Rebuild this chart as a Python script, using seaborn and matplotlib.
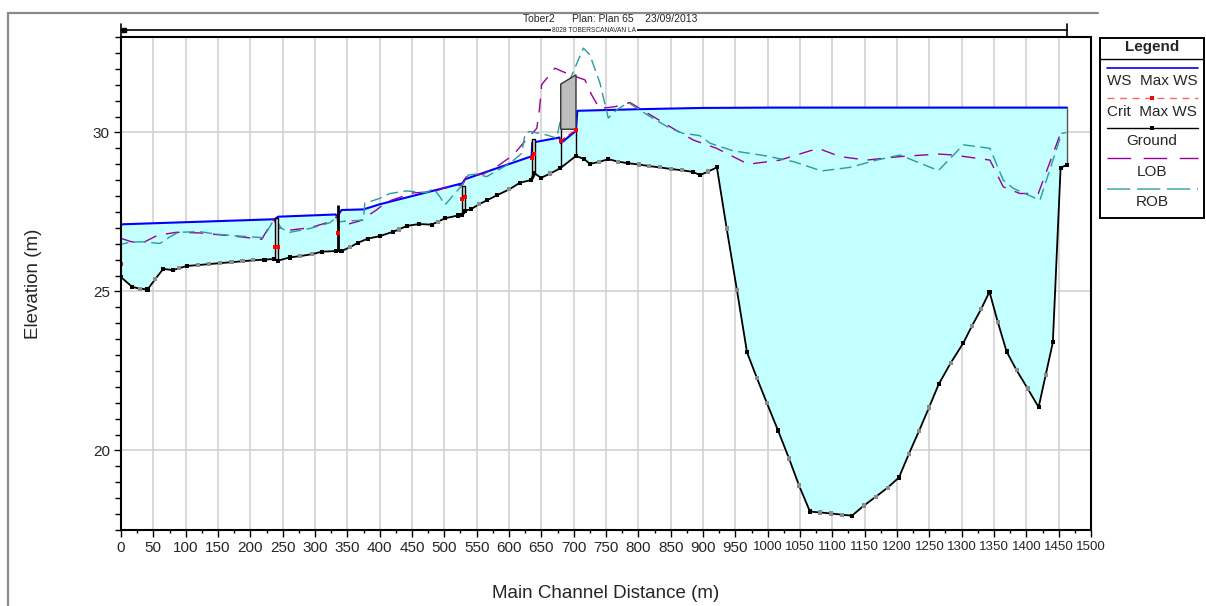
import numpy as np
import matplotlib
matplotlib.use("Agg")
import matplotlib.pyplot as plt
import matplotlib.transforms as mtransforms
from matplotlib.lines import Line2D
from matplotlib.patches import Rectangle
from matplotlib.ticker import MultipleLocator, FixedLocator
import seaborn as sns

# ---------------- Ground profile ----------------
ground_station = [0, 17.5, 29, 41, 52.6, 65.4, 80, 90, 101.5, 119.6, 136.5, 153, 171, 188,
                  204.6, 222, 236.6, 243, 261, 276.8, 294.8, 311, 332, 341, 354, 366.5,
                  381.5, 400.5, 421, 430, 441.8, 461, 480.4, 489.7, 501, 521.6, 527.8,
                  532, 540.7, 553.6, 566.5, 581, 600.5, 617, 634, 638.6, 649.5, 664,
                  679, 703.6, 716.5, 725, 739, 753.5, 769, 784.5, 801, 817, 833.5, 850.5,
                  867.5, 884, 895.3, 908, 921.5, 936.6, 952.5, 968, 983.5, 999, 1016,
                  1033, 1048.5, 1065.4, 1081, 1098, 1115, 1130.4, 1149, 1167.5, 1185.5,
                  1203, 1218.5, 1234, 1249.5, 1264.4, 1283, 1302.6, 1316, 1330, 1343,
                  1355.7, 1369.5, 1385, 1402, 1419, 1430, 1441, 1453, 1463]
ground_elev = [25.45, 25.14, 25.09, 25.06, 25.38, 25.71, 25.67, 25.73, 25.80, 25.83, 25.86,
               25.89, 25.92, 25.95, 25.98, 26.00, 26.02, 25.97, 26.07, 26.11, 26.17, 26.25,
               26.27, 26.27, 26.39, 26.53, 26.66, 26.74, 26.88, 26.95, 27.06, 27.12, 27.10,
               27.19, 27.30, 27.39, 27.40, 27.54, 27.58, 27.74, 27.87, 28.02, 28.21, 28.42,
               28.50, 28.73, 28.57, 28.71, 28.87, 29.26, 29.16, 29.01, 29.07, 29.16, 29.08,
               29.03, 28.99, 28.94, 28.90, 28.85, 28.81, 28.76, 28.66, 28.77, 28.90, 26.98,
               25.04, 23.09, 22.27, 21.48, 20.63, 19.75, 18.90, 18.08, 18.05, 18.02, 17.98,
               17.95, 18.27, 18.55, 18.83, 19.15, 19.90, 20.61, 21.35, 22.08, 22.75, 23.38,
               23.92, 24.44, 24.99, 24.05, 23.11, 22.52, 21.95, 21.36, 22.38, 23.40, 28.89,
               28.98]
# 1 = surveyed cross section, 0 = interpolated section
ground_is_xs = [1, 1, 0, 1, 0, 1, 1, 0, 1, 0, 0, 0, 0, 0, 0, 1, 1, 1, 1, 0, 0, 1, 1, 1, 0,
                1, 1, 1, 1, 0, 1, 1, 1, 0, 1, 1, 1, 1, 1, 0, 1, 1, 0, 1, 1, 1, 1, 0, 1, 1,
                1, 1, 0, 1, 0, 1, 0, 0, 0, 0, 0, 1, 1, 0, 1, 0, 0, 1, 0, 0, 1, 0, 0, 1, 0,
                0, 0, 1, 0, 0, 0, 1, 0, 0, 0, 1, 0, 1, 0, 0, 1, 0, 1, 0, 0, 1, 0, 1, 1, 1]

# ---------------- Max water surface ----------------
ws_station = [0, 237.5, 243, 332, 334, 341, 375, 400, 528, 532, 635, 636, 678, 680,
              703.6, 705.6, 800, 900, 1000, 1463]
ws_elev = [27.11, 27.27, 27.35, 27.42, 27.35, 27.56, 27.58, 27.74, 28.40, 28.53, 29.25,
           29.68, 29.84, 29.66, 30.05, 30.68, 30.73, 30.77, 30.78, 30.78]

# ---------------- Critical water surface (structures) ----------------
crit_station = [0, 237.5, 243, 336, 528, 532, 635, 639, 680, 703.6]
crit_elev = [25.86, 26.40, 26.40, 26.84, 27.90, 27.98, 29.21, 29.32, 29.73, 30.08]
crit_group = [0, 1, 1, 2, 3, 3, 4, 4, 5, 5]

# ---------------- Bank stations ----------------
lob_station = [0, 16.5, 34.5, 57, 86, 122, 148, 184, 217.6, 236, 243, 261, 292, 323, 334,
               336, 369.6, 395, 411, 452, 483, 498, 528, 534.6, 560, 581, 606.6, 622, 643,
               647, 650.5, 671, 689, 717.5, 727.8, 740, 764, 787, 849, 885, 921, 970,
               1019, 1078, 1112, 1153, 1204.6, 1264, 1287, 1343.7, 1364.3, 1390, 1418.5,
               1452, 1462]
lob_elev = [26.67, 26.56, 26.54, 26.77, 26.86, 26.84, 26.79, 26.72, 26.64, 27.27, 27.00,
            26.93, 27.00, 27.19, 27.35, 27.03, 27.22, 27.56, 27.82, 28.10, 28.13, 28.24,
            28.35, 28.63, 28.69, 28.92, 29.29, 29.66, 30.13, 30.71, 31.50, 32.02, 31.86,
            31.65, 31.18, 30.75, 30.81, 30.94, 30.18, 29.76, 29.50, 29.00, 29.13, 29.50,
            29.24, 29.13, 29.24, 29.32, 29.29, 29.13, 28.29, 28.08, 28.08, 29.92, 30.03]
rob_station = [0, 14, 34.5, 60, 76, 88.6, 122, 148, 184, 220, 236, 240.7, 248.5, 261, 292,
               323, 334, 336, 354, 374.7, 377, 400.5, 416, 441.8, 472.7, 483, 493, 501,
               514, 528, 537, 550, 565.5, 601.5, 619.6, 625, 632.5, 658, 673.7, 684, 694,
               715, 725, 740.7, 753.5, 766.5, 784.5, 818, 849, 869.5, 895, 911, 947,
               998.5, 1040, 1083.5, 1127, 1168.5, 1204.6, 1230, 1264, 1302.6, 1343.7,
               1364.3, 1380, 1421, 1454.6, 1462]
rob_elev = [26.48, 26.55, 26.56, 26.51, 26.72, 26.86, 26.88, 26.80, 26.74, 26.69, 27.24,
            27.19, 26.98, 26.86, 26.98, 27.16, 27.35, 27.19, 27.22, 27.24, 27.77, 27.93,
            28.08, 28.16, 28.10, 28.24, 27.98, 27.72, 28.03, 28.35, 28.66, 28.69, 28.61,
            29.03, 29.34, 29.97, 30.03, 29.92, 29.82, 30.81, 31.65, 32.65, 32.44, 31.55,
            30.45, 30.71, 30.94, 30.50, 30.13, 29.97, 29.90, 29.66, 29.42, 29.26, 29.08,
            28.79, 28.90, 29.13, 29.29, 29.08, 28.80, 29.61, 29.50, 28.50, 28.24, 27.87,
            29.97, 30.00]

# ---------------- Structures ----------------
box_left = [237.5, 528.0, 635.0]
box_right = [243.0, 532.0, 640.0]
box_top = [27.30, 28.30, 29.79]
weir_station = [336.0]
weir_top = [27.72]
deck_station = [680.0, 703.6]
deck_top = [31.52, 31.81]
deck_low = [30.10, 30.10]

x_ticks = list(range(0, 1501, 50))
y_ticks = [20, 25, 30]
reach_label = "8028 TOBERSCANAVAN LA"
title_text = "Tober2      Plan: Plan 65    23/09/2013"

WS_COLOR = "#0000ff"
CRIT_COLOR = "#ff0000"
LOB_COLOR = "#990099"
ROB_COLOR = "#2a9a9a"
WATER_COLOR = "#c4ffff"

sns.set_theme(style="white")
plt.rcParams["font.family"] = ["Liberation Sans", "DejaVu Sans"]

W, H = 1206, 606
fig = plt.figure(figsize=(W / 100, H / 100), dpi=100)
ax = fig.add_axes([121 / W, 1 - 530 / H, 970 / W, 493 / H])

gx = np.array(ground_station, dtype=float)
gz = np.array(ground_elev, dtype=float)
wx = np.array(ws_station, dtype=float)
wz = np.array(ws_elev, dtype=float)

# water between ground and water surface
ax.fill(np.concatenate([wx, gx[::-1]]), np.concatenate([wz, gz[::-1]]),
        color=WATER_COLOR, lw=0, zorder=1)

# water surface
sns.lineplot(x=ws_station, y=ws_elev, sort=False, estimator=None, color=WS_COLOR,
             lw=1.5, ax=ax, zorder=3)
# closing edge at upstream end
ax.vlines(gx[-1], gz[-1], wz[-1], color="#555555", lw=1.0, zorder=3)

# bank stations
sns.lineplot(x=lob_station, y=lob_elev, sort=False, estimator=None, color=LOB_COLOR,
             lw=1.0, linestyle=(0, (10, 7)), ax=ax, zorder=4)
sns.lineplot(x=rob_station, y=rob_elev, sort=False, estimator=None, color=ROB_COLOR,
             lw=1.0, linestyle=(3, (8.5, 4)), ax=ax, zorder=4)

# structures
for xl, xr, zt in zip(box_left, box_right, box_top):
    zl, zr = np.interp([xl, xr], gx, gz)
    ax.fill([xl, xl, xr, xr], [zl, zt, zt, zr], facecolor="#e2e2e2",
            edgecolor="black", lw=1.0, zorder=5)
for xs, zt in zip(weir_station, weir_top):
    ax.vlines(xs, np.interp(xs, gx, gz), zt, color="black", lw=2.0, zorder=5)
deck_ground = np.interp(deck_station, gx, gz)
ax.vlines(deck_station, deck_ground, deck_low, color="black", lw=1.0, zorder=5)
ax.fill([deck_station[0], deck_station[0], deck_station[1], deck_station[1]],
        [deck_low[0], deck_top[0], deck_top[1], deck_low[1]],
        facecolor="#bdbdbd", edgecolor="#333333", lw=1.0, zorder=5)

# ground line with section markers
sns.lineplot(x=ground_station, y=ground_elev, sort=False, estimator=None, color="black",
             lw=1.3, ax=ax, zorder=6)
kind = ["xs" if k else "interp" for k in ground_is_xs]
sns.scatterplot(x=ground_station, y=ground_elev, hue=kind,
                palette={"xs": "black", "interp": "#8c8c8c"}, marker="s", s=9,
                linewidth=0, legend=False, ax=ax, zorder=7)

# critical water surface
sns.lineplot(x=crit_station, y=crit_elev, units=crit_group, estimator=None, sort=False,
             color=CRIT_COLOR, lw=1.0, linestyle=(0, (4, 3)), marker="s", markersize=3,
             markeredgewidth=0, ax=ax, zorder=8)

# axes formatting
ax.set_xlim(0, 1500)
ax.set_ylim(17.5, 33.0)
ax.set_xlabel("")
ax.set_ylabel("")
ax.xaxis.set_major_locator(FixedLocator(x_ticks))
ax.xaxis.set_minor_locator(MultipleLocator(25))
ax.yaxis.set_major_locator(FixedLocator(y_ticks))
ax.yaxis.set_minor_locator(MultipleLocator(0.5))
ax.set_xticklabels([str(v) for v in x_ticks])
for lbl, v in zip(ax.get_xticklabels(), x_ticks):
    lbl.set_fontsize(9.6 if v >= 1000 else 11)
ax.tick_params(axis="y", labelsize=11)
ax.tick_params(which="major", direction="out", length=5, width=1.0, color="black",
               bottom=True, left=True, pad=3)
ax.tick_params(axis="x", which="minor", direction="out", length=2.5, width=1.0,
               color="black", bottom=True)
ax.tick_params(axis="y", which="minor", direction="out", length=4, width=1.0,
               color="black", left=True)
ax.grid(True, which="major", color="#d2d2d2", lw=1.2)
ax.set_axisbelow(True)
for sp in ax.spines.values():
    sp.set_color("black")
    sp.set_linewidth(1.5)
    sp.set_zorder(10)

fig.text(34 / W, 1 - 283.5 / H, "Elevation (m)", rotation=90, ha="center", va="center",
         fontsize=13.5)
fig.text(606 / W, 1 - 594 / H, "Main Channel Distance (m)", ha="center", va="center",
         fontsize=13.5)

# title and reach bracket above the plot
fig.text(610 / W, 1 - 18.5 / H, title_text, ha="center", va="center", fontsize=7.5)
trans = mtransforms.blended_transform_factory(ax.transData, fig.transFigure)
y_br = 1 - 30 / H
reach_start, reach_end = gx[0], gx[-1]
ax.plot([reach_start, reach_end], [y_br, y_br], transform=trans, clip_on=False,
        color="black", lw=1.2)
for xx in (reach_start, reach_end):
    ax.plot([xx, xx], [1 - 24 / H, 1 - 37 / H], transform=trans, clip_on=False,
            color="black", lw=1.2)
ax.plot([reach_start + 4], [y_br], transform=trans, clip_on=False, marker="s",
        ms=2.5, color="black")
ax.text((reach_start + reach_end) / 2, y_br, reach_label, transform=trans, ha="center",
        va="center", fontsize=4.8, bbox=dict(fc="white", ec="none", pad=0.6))

# outer frame lines
fig.add_artist(Line2D([8 / W, 8 / W], [0, 1 - 13 / H], color="#8a8a8a", lw=1.6))
fig.add_artist(Line2D([8 / W, 1098 / W], [1 - 13 / H, 1 - 13 / H], color="#8a8a8a",
                      lw=1.6))

# legend panel
lax = fig.add_axes([1099 / W, 1 - 219 / H, 106 / W, 182 / H])
lax.set_xlim(1099, 1205)
lax.set_ylim(219, 37)
lax.axis("off")
lax.add_patch(Rectangle((1099.7, 37.7), 104.3, 180.6, fill=False, ec="black", lw=1.4,
                        clip_on=False))
lax.plot([1099.7, 1204], [59, 59], color="black", lw=1.0)
lax.text(1152, 47.5, "Legend", ha="center", va="center", fontsize=11, fontweight="bold")
x0, x1 = 1106.5, 1197.5
xm = (x0 + x1) / 2
lax.plot([x0, x1], [67.5, 67.5], color=WS_COLOR, lw=1.2)
lax.text(xm, 81, "WS  Max WS", ha="center", va="center", fontsize=11)
lax.plot([x0, x1], [97.5, 97.5], color=CRIT_COLOR, lw=1.0, linestyle=(0, (5, 4)),
         alpha=0.6)
lax.plot([xm], [97.5], marker="s", ms=2.5, color=CRIT_COLOR, mew=0)
lax.text(xm, 111.5, "Crit  Max WS", ha="center", va="center", fontsize=11)
lax.plot([x0, x1], [128, 128], color="black", lw=1.0)
lax.plot([xm], [128], marker="s", ms=2.8, color="black", mew=0)
lax.text(xm, 141, "Ground", ha="center", va="center", fontsize=11)
lax.plot([x0, x1], [158, 158], color=LOB_COLOR, lw=1.0, linestyle=(0, (17, 9)))
lax.text(xm, 171.5, "LOB", ha="center", va="center", fontsize=11)
lax.plot([x0, x1], [189, 189], color=ROB_COLOR, lw=1.2, linestyle=(0, (14, 4)),
         alpha=0.8)
lax.text(xm, 202, "ROB", ha="center", va="center", fontsize=11)

fig.savefig("out.png", dpi=100)
